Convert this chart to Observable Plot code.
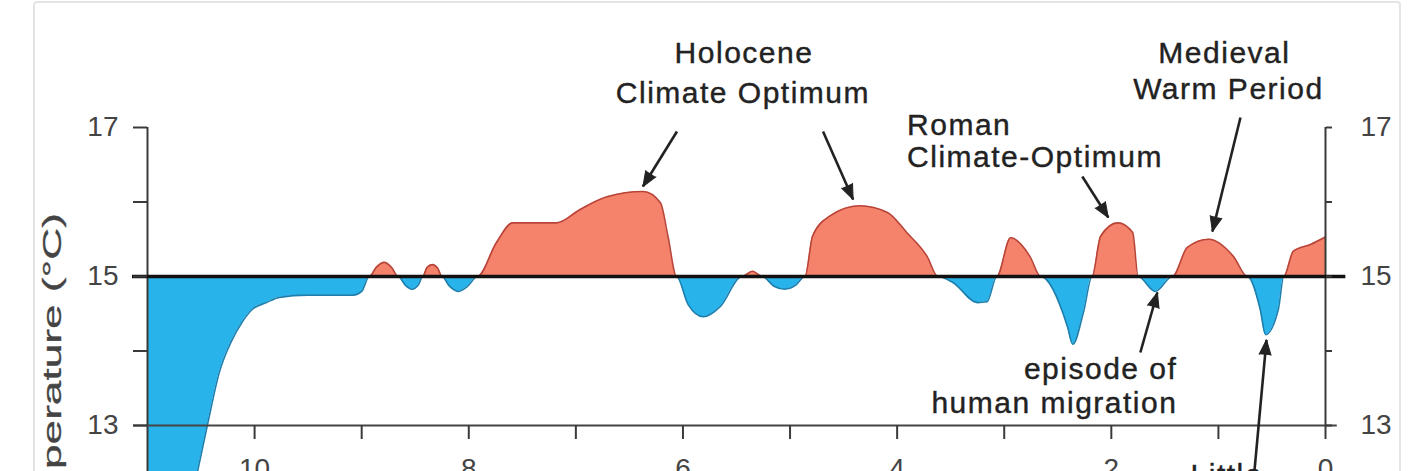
<!DOCTYPE html>
<html>
<head>
<meta charset="utf-8">
<script src="https://cdn.jsdelivr.net/npm/d3@7"></script>
<script src="https://cdn.jsdelivr.net/npm/@observablehq/plot@0.6"></script>
<style>
  html, body { margin: 0; padding: 0; background: #fff; overflow: hidden; width: 1412px; height: 471px; }
  #wrap { position: relative; width: 1412px; height: 471px; overflow: hidden; }
  #chart svg { display: block; }
  #card { position: absolute; left: 33px; top: 1px; width: 1364px; height: 540px;
          border: 2px solid #e4e4e4; border-radius: 4px; pointer-events: none; }
</style>
</head>
<body>
<div id="wrap"><div id="chart"></div><div id="card"></div></div>
<script>
// ---- data (thousands of years before present, temperature °C) ----
const kyr = [11.0, 10.7, 10.53, 10.44, 10.33, 10.21, 10.12, 10.02, 9.89, 9.77, 9.51, 9.08, 9.0, 8.93,
  8.86, 8.79, 8.72, 8.66, 8.59, 8.53, 8.47, 8.43, 8.39, 8.34, 8.29, 8.25, 8.18, 8.10, 8.01, 7.92,
  7.74, 7.59, 7.18, 6.96, 6.71, 6.37, 6.21, 6.14,
  6.06, 5.95, 5.81, 5.65, 5.45, 5.35, 5.26, 5.15, 5.05, 4.95, 4.86, 4.79, 4.63, 4.35, 4.09, 3.91, 3.72, 3.62, 3.48,
  3.25, 3.16, 3.07, 2.94, 2.76, 2.66, 2.41, 2.36, 2.26, 2.18, 2.10, 1.94, 1.80, 1.75, 1.59, 1.43,
  1.29, 1.09, 0.86, 0.73, 0.61, 0.56, 0.44, 0.39, 0.30, 0.14, 0.0];
const temp = [9.3, 11.3, 12.40, 13.01, 13.71, 14.15, 14.38, 14.56, 14.65, 14.72, 14.75, 14.75, 14.80, 15.0,
  15.13, 15.19, 15.12, 15.0, 14.88, 14.83, 14.89, 15.0, 15.12, 15.16, 15.11, 15.0, 14.87, 14.80, 14.87, 15.0,
  15.46, 15.72, 15.72, 15.90, 16.07, 16.14, 15.99, 15.54,
  15.0, 14.62, 14.46, 14.60, 15.0, 15.07, 15.0, 14.87, 14.83, 14.88, 15.0, 15.54, 15.81, 15.95, 15.86, 15.59, 15.27, 15.0, 14.92,
  14.65, 14.66, 15.0, 15.52, 15.27, 15.0, 14.33, 14.09, 14.52, 15.0, 15.54, 15.72, 15.59, 15.0, 14.80, 15.0,
  15.39, 15.50, 15.27, 15.0, 14.56, 14.22, 14.56, 15.0, 15.34, 15.43, 15.53];
const baseline = 15;

const yTicks = [13, 14, 15, 16, 17];
const yTickLabels = ["13", "", "15", "", "17"];
const xTicks = [10, 9, 8, 7, 6, 5, 4, 3, 2, 1, 0];
const xTickLabels = ["10", "", "8", "", "6", "", "4", "", "2", "", "0"];
const yTitle = "Temperature (°C)";

// annotation lines (anchored in data units: kyr, °C)
const noteText   = ["Holocene", "Climate Optimum", "Roman", "Climate-Optimum", "Medieval", "Warm Period", "episode of", "human migration", "Little"];
const noteKyr    = [5.43, 5.44, 3.907, 3.907, 0.944, 0.907, 1.383, 1.383, 1.26];
const noteTemp   = [17.99, 17.46, 17.03, 16.60, 17.99, 17.51, 13.75, 13.30, 12.33];
const noteAnchor = ["middle", "middle", "start", "start", "middle", "middle", "end", "end", "start"];

// arrows: from (x1,y1) to tip (x2,y2)
const arrowX1 = [6.056, 4.692, 2.271, 0.794, 1.729, 0.682];
const arrowY1 = [16.946, 16.946, 16.342, 17.134, 13.98, 12.10];
const arrowX2 = [6.374, 4.411, 2.028, 1.056, 1.570, 0.551];
const arrowY2 = [16.208, 16.034, 15.792, 15.604, 14.785, 14.15];

// ---- layout ----
const W = 1412, H = 471;
const M = {top: 127, right: 87, bottom: 46, left: 147};
const xDomain = [11, 0], yDomain = [13, 17];
const kx = (W - M.left - M.right) / (xDomain[0] - xDomain[1]);
const ky = (H - M.top - M.bottom) / (yDomain[1] - yDomain[0]);

const series = kyr.map((k, i) => ({kyr: k, t: temp[i]}));
const notes = noteText.map((t, i) => ({text: t, x: noteKyr[i], y: noteTemp[i], anchor: noteAnchor[i]}));
const arrows = arrowX1.map((x1, i) => {
  const a = {x1, y1: arrowY1[i], x2: arrowX2[i], y2: arrowY2[i]};
  a.rot = Math.atan2(-(a.x2 - a.x1) * kx, (a.y2 - a.y1) * ky) * 180 / Math.PI;
  return a;
});
const yLab = new Map(yTicks.map((d, i) => [d, yTickLabels[i]]));
const xLab = new Map(xTicks.map((d, i) => [d, xTickLabels[i]]));

const warmFill = "#f5836b", coldFill = "#28b4ea";
const warmEdge = "#b8453a", coldEdge = "#1e7fae";
const ink = "#222", axisInk = "#3a3a3a";
const curve = "monotone-x";
const font = "'Liberation Sans', Arial, Helvetica, sans-serif";

const textMark = (anchor) => Plot.text(notes.filter(d => d.anchor === anchor), {
  x: "x", y: "y", text: "text", textAnchor: anchor, fontSize: 30, fill: ink, stroke: ink, strokeWidth: 0.4
});

const chart = Plot.plot({
  width: W, height: H,
  marginTop: M.top, marginRight: M.right, marginBottom: M.bottom, marginLeft: M.left,
  x: {domain: xDomain},
  y: {domain: yDomain},
  style: {fontFamily: font, fontSize: "28px", background: "transparent", overflow: "visible"},
  marks: [
    Plot.areaY(series, {x: "kyr", y1: baseline, y2: d => Math.max(d.t, baseline), fill: warmFill, curve}),
    Plot.areaY(series, {x: "kyr", y1: baseline, y2: d => Math.min(d.t, baseline), fill: coldFill, curve}),
    Plot.lineY(series, {x: "kyr", y: d => Math.max(d.t, baseline), stroke: warmEdge, strokeWidth: 1.6, curve}),
    Plot.lineY(series, {x: "kyr", y: d => Math.min(d.t, baseline), stroke: coldEdge, strokeWidth: 1.6, curve}),
    Plot.ruleX([11], {y1: 17, y2: 11.5, stroke: axisInk, strokeWidth: 2}),
    Plot.ruleX([0], {y1: 17, y2: 13, stroke: axisInk, strokeWidth: 2}),
    Plot.ruleY([13], {x1: 11.13, x2: -0.11, stroke: "#444", strokeWidth: 2}),
    Plot.ruleY([baseline], {x1: 11.14, x2: -0.19, stroke: "#111", strokeWidth: 3.5}),
    Plot.axisY(yTicks, {anchor: "left", tickSize: 14, tickPadding: 15, tickFormat: d => yLab.get(d),
      label: null, stroke: axisInk, strokeWidth: 2, fill: "#444", fontSize: 28}),
    Plot.axisY(yTicks, {anchor: "right", tickSize: 6, tickPadding: 29, tickFormat: d => yLab.get(d),
      label: null, stroke: axisInk, strokeWidth: 2, fill: "#444", fontSize: 28}),
    Plot.axisX(xTicks, {anchor: "bottom", tickSize: 14, tickPadding: 19, tickFormat: d => xLab.get(d),
      label: null, stroke: axisInk, strokeWidth: 2, fill: "#444", fontSize: 28}),
    Plot.text([yTitle], {text: d => d, frameAnchor: "bottom-left", rotate: -90, textAnchor: "start",
      dx: -87, dy: 127, fontSize: 26, fill: "#444", stroke: "#444", strokeWidth: 0.3}),
    Plot.link(arrows, {x1: "x1", y1: "y1", x2: "x2", y2: "y2", stroke: ink, strokeWidth: 2.6}),
    Plot.vector(arrows, {x: "x2", y: "y2", rotate: "rot", length: 15, anchor: "end", shape: "spike", r: 6,
      fill: ink, stroke: ink, strokeWidth: 1}),
    textMark("middle"), textMark("start"), textMark("end")
  ]
});

chart.querySelectorAll("text").forEach(t => {
  const s = t.textContent;
  if (s === yTitle) {
    const tr = t.getAttribute("transform");
    if (tr) t.setAttribute("transform", tr + " scale(1.7,1)");
    else t.style.letterSpacing = "6px";
  } else if (noteText.includes(s)) t.style.letterSpacing = "1.5px";
});
document.getElementById("chart").appendChild(chart);
</script>
</body>
</html>
